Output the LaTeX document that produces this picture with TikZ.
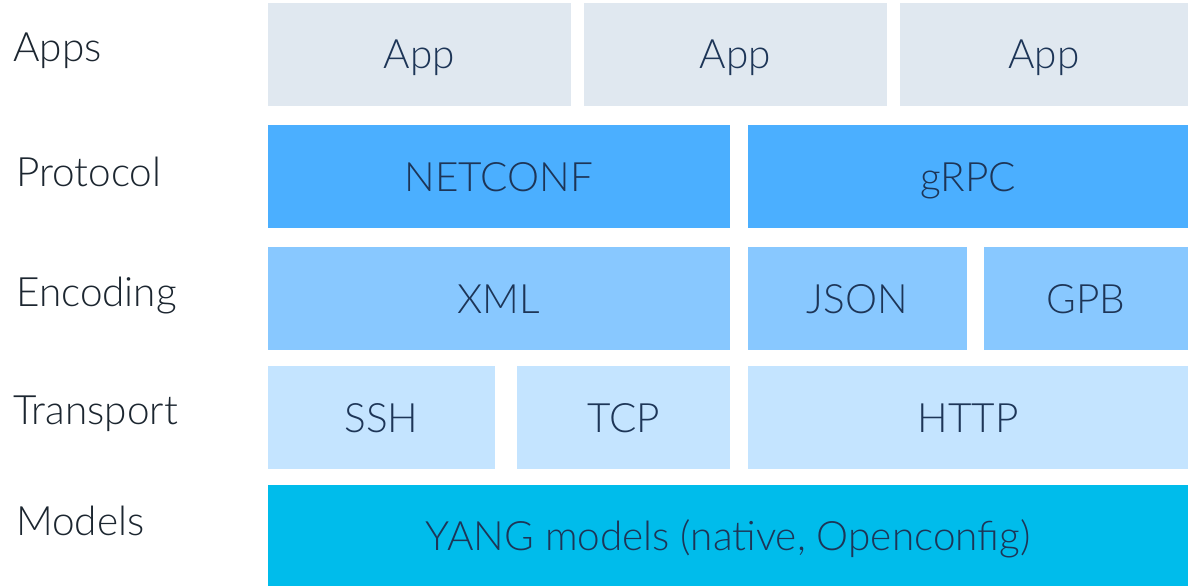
\documentclass[tikz,border=0pt]{standalone}
\usepackage{fontspec}
\setmainfont{Lato}[UprightFont={* Light}]
\definecolor{appsc}{HTML}{E0E8F0}
\definecolor{protoc}{HTML}{4BAFFF}
\definecolor{encc}{HTML}{88C8FF}
\definecolor{transc}{HTML}{C4E4FF}
\definecolor{modelc}{HTML}{00BCEB}
\definecolor{boxtext}{HTML}{1D3557}
\definecolor{labtext}{HTML}{1C2630}
\begin{document}
\begin{tikzpicture}[x=1pt,y=-1pt,
  box/.style={anchor=north west, inner sep=0pt, outer sep=0pt, draw=none,
    text=boxtext, font=\fontsize{40.5}{44}\selectfont,
    text height=29pt, text depth=0pt},
  lab/.style={anchor=base west, inner sep=0pt, text=labtext,
    font=\fontsize{40.5}{44}\selectfont}]
\useasboundingbox (0,0) rectangle (1188,586);
% Apps
\node[box, fill=appsc, minimum width=303pt, minimum height=103pt] (app1) at (268,3) {App};
\node[box, fill=appsc, minimum width=303pt, minimum height=103pt] (app2) at (584,3) {App};
\node[box, fill=appsc, minimum width=288pt, minimum height=103pt] (app3) at (900,3) {App};
% Protocol
\node[box, fill=protoc, minimum width=462pt, minimum height=103pt] (netconf) at (268,125) {NETCONF};
\node[box, fill=protoc, minimum width=440pt, minimum height=103pt] (grpc) at (748,125) {gRPC};
% Encoding
\node[box, fill=encc, minimum width=462pt, minimum height=103pt] (xml) at (268,247) {XML};
\node[box, fill=encc, minimum width=219pt, minimum height=103pt] (json) at (748,247) {JSON};
\node[box, fill=encc, minimum width=204pt, minimum height=103pt] (gpb) at (984,247) {GPB};
% Transport
\node[box, fill=transc, minimum width=227pt, minimum height=103pt] (ssh) at (268,366) {SSH};
\node[box, fill=transc, minimum width=213pt, minimum height=103pt] (tcp) at (517,366) {TCP};
\node[box, fill=transc, minimum width=440pt, minimum height=103pt] (http) at (748,366) {HTTP};
% Models
\node[box, fill=modelc, minimum width=920pt, minimum height=101pt] (yang) at (268,485) {YANG models (native, Openconfig)};
% Labels
\node[lab] (lapps) at (13,62) {Apps};
\node[lab] (lproto) at (16,186) {Protocol};
\node[lab] (lenc) at (16,306) {Encoding};
\node[lab] (ltrans) at (13,424) {Transport};
\node[lab] (lmodels) at (16,535) {Models};
\end{tikzpicture}
\end{document}
